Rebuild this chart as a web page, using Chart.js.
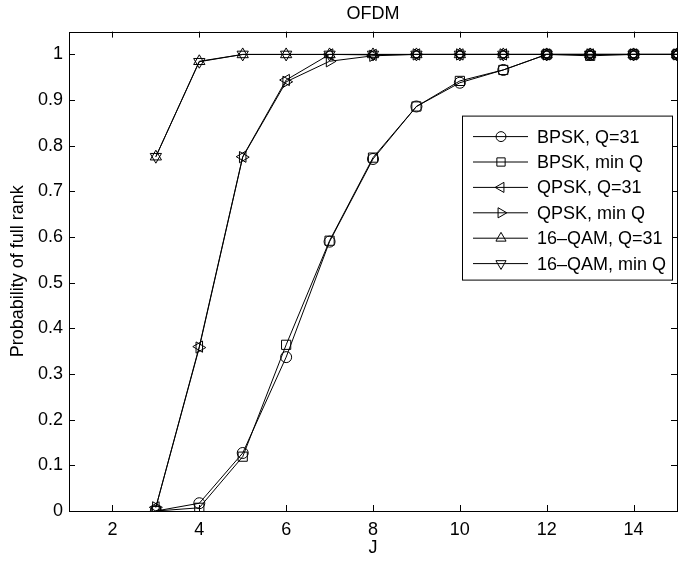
<!DOCTYPE html>
<html>
<head>
<meta charset="utf-8">
<script src="https://cdn.jsdelivr.net/npm/chart.js@4.4.0/dist/chart.umd.min.js"></script>
<style>
  html, body { margin: 0; padding: 0; background: #fff; }
  canvas { display: block; }
</style>
</head>
<body>
<canvas id="chart" width="681" height="561"></canvas>
<script>
// Data
const jValues = [3, 4, 5, 6, 7, 8, 9, 10, 11, 12, 13, 14, 15];
const bpskQ31 = [0, 0.017, 0.127, 0.337, 0.59, 0.771, 0.886, 0.938, 0.966, 1, 1, 1, 1];
const bpskMinQ = [0, 0.007, 0.119, 0.364, 0.592, 0.774, 0.886, 0.942, 0.966, 1, 0.997, 1, 1];
const qpskQ31 = [0.008, 0.36, 0.776, 0.944, 1, 0.999, 1, 1, 1, 1, 1, 1, 1];
const qpskMinQ = [0.008, 0.358, 0.775, 0.94, 0.985, 0.997, 1, 1, 1, 1, 1, 1, 1];
const qamQ31 = [0.776, 0.985, 1, 1, 1, 1, 1, 1, 1, 1, 1, 1, 1];
const qamMinQ = [0.776, 0.984, 1, 1, 1, 1, 1, 1, 1, 1, 1, 1, 1];

const seriesLabels = ['BPSK, Q=31', 'BPSK, min Q', 'QPSK, Q=31', 'QPSK, min Q', '16\u2013QAM, Q=31', '16\u2013QAM, min Q'];
const xTicks = [2, 4, 6, 8, 10, 12, 14];
const yTicks = [0, 0.1, 0.2, 0.3, 0.4, 0.5, 0.6, 0.7, 0.8, 0.9, 1];

const FONT = "'Liberation Sans', Arial, sans-serif";
const FS = 18;

const markers = [
  { pointStyle: 'circle', rotation: 0, radius: 5.5 },
  { pointStyle: 'rect', rotation: 0, radius: 6.5 },
  { pointStyle: 'triangle', rotation: -90, radius: 6.5 },
  { pointStyle: 'triangle', rotation: 90, radius: 6.5 },
  { pointStyle: 'triangle', rotation: 0, radius: 6.5 },
  { pointStyle: 'triangle', rotation: 180, radius: 6.5 }
];

function makeSet(i, values) {
  const m = markers[i];
  return {
    label: seriesLabels[i],
    data: jValues.map((j, k) => ({ x: j, y: values[k] })),
    borderColor: '#000',
    borderWidth: 1,
    backgroundColor: 'rgba(0,0,0,0)',
    pointStyle: m.pointStyle,
    pointRotation: m.rotation,
    pointRadius: m.radius,
    pointHoverRadius: m.radius,
    pointBorderWidth: 1,
    pointBorderColor: '#000',
    pointBackgroundColor: 'rgba(0,0,0,0)',
    tension: 0
  };
}

// box, inward ticks and inset legend
const matlabAxes = {
  id: 'matlabAxes',
  afterDatasetsDraw(chart) {
    const { ctx, chartArea: a, scales } = chart;
    ctx.save();
    ctx.strokeStyle = '#000';
    ctx.lineWidth = 1;
    ctx.strokeRect(Math.round(a.left) + 0.5, Math.round(a.top) + 0.5, Math.round(a.right - a.left), Math.round(a.bottom - a.top));
    const tl = 6;
    ctx.beginPath();
    xTicks.forEach(v => {
      const px = Math.round(scales.x.getPixelForValue(v)) + 0.5;
      ctx.moveTo(px, a.bottom); ctx.lineTo(px, a.bottom - tl);
      ctx.moveTo(px, a.top); ctx.lineTo(px, a.top + tl);
    });
    yTicks.forEach(v => {
      const py = Math.round(scales.y.getPixelForValue(v)) + 0.5;
      ctx.moveTo(a.left, py); ctx.lineTo(a.left + tl, py);
      ctx.moveTo(a.right, py); ctx.lineTo(a.right - tl, py);
    });
    ctx.stroke();

    // legend
    const boxL = a.left + 393, boxT = a.top + 84, boxW = 210, boxH = 164;
    ctx.fillStyle = '#fff';
    ctx.fillRect(boxL, boxT, boxW, boxH);
    ctx.strokeRect(boxL + 0.5, boxT + 0.5, boxW, boxH);
    ctx.font = FS + 'px ' + FONT;
    ctx.textBaseline = 'middle';
    chart.data.datasets.forEach((ds, i) => {
      const y = boxT + 21 + i * 25.4;
      ctx.beginPath();
      ctx.moveTo(boxL + 11, y); ctx.lineTo(boxL + 66, y);
      ctx.stroke();
      const m = markers[i];
      ctx.fillStyle = 'rgba(0,0,0,0)';
      Chart.helpers.drawPoint(ctx, {
        pointStyle: m.pointStyle, rotation: m.rotation, radius: m.radius * 0.9, borderWidth: 1
      }, boxL + 39, y);
      ctx.fillStyle = '#000';
      ctx.fillText(ds.label, boxL + 75, y + 1);
    });
    ctx.restore();
  }
};

new Chart(document.getElementById('chart'), {
  type: 'line',
  data: {
    datasets: [
      makeSet(0, bpskQ31),
      makeSet(1, bpskMinQ),
      makeSet(2, qpskQ31),
      makeSet(3, qpskMinQ),
      makeSet(4, qamQ31),
      makeSet(5, qamMinQ)
    ]
  },
  options: {
    responsive: false,
    animation: false,
    layout: { autoPadding: false, padding: { left: 0, right: 4, top: 0, bottom: 0 } },
    plugins: {
      legend: { display: false },
      tooltip: { enabled: false },
      title: {
        display: true,
        fullSize: false,
        text: 'OFDM',
        color: '#000',
        font: { family: FONT, size: FS, weight: 'normal' },
        padding: { top: 3, bottom: 7 }
      }
    },
    scales: {
      x: {
        type: 'linear',
        min: 1,
        max: 15,
        afterBuildTicks: s => { s.ticks = xTicks.map(v => ({ value: v })); },
        afterFit: s => { s.height = 50; s.paddingLeft = 0; s.paddingRight = 0; },
        grid: { display: false, drawTicks: false },
        border: { display: false },
        ticks: { color: '#000', padding: 8, font: { family: FONT, size: FS }, maxRotation: 0 },
        title: { display: true, text: 'J', color: '#000', font: { family: FONT, size: FS }, padding: { top: 0, bottom: 2 } }
      },
      y: {
        type: 'linear',
        min: 0,
        max: 1.05,
        afterBuildTicks: s => { s.ticks = yTicks.map(v => ({ value: v })); },
        afterFit: s => { s.width = 69; s.paddingTop = 0; s.paddingBottom = 0; },
        grid: { display: false, drawTicks: false },
        border: { display: false },
        ticks: { color: '#000', padding: 6, font: { family: FONT, size: FS }, callback: v => String(Math.round(v * 10) / 10) },
        title: { display: true, text: 'Probability of full rank', color: '#000', font: { family: FONT, size: FS }, padding: { top: 7, bottom: 0 } }
      }
    }
  },
  plugins: [matlabAxes]
});
</script>
</body>
</html>
